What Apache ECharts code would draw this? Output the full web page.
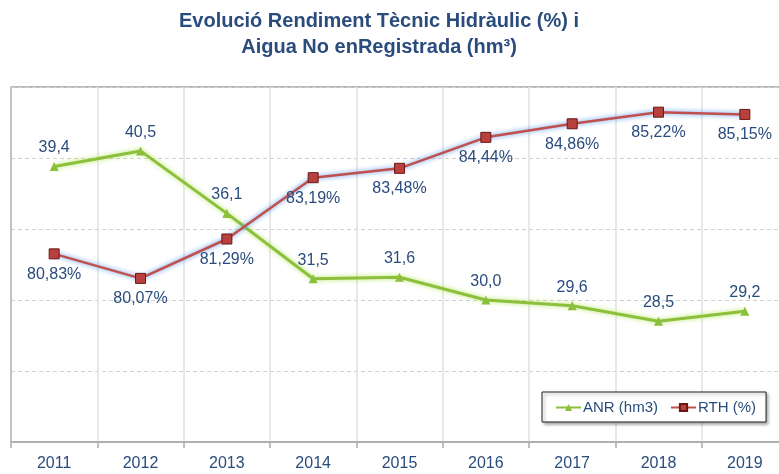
<!DOCTYPE html>
<html>
<head>
<meta charset="utf-8">
<script src="https://cdn.jsdelivr.net/npm/echarts@6/dist/echarts.min.js"></script>
<style>
  html, body { margin: 0; padding: 0; background: #fff; }
  #chart { width: 779px; height: 474px; }
</style>
</head>
<body>
<div id="chart"></div>
<script>
  var years = ['2011', '2012', '2013', '2014', '2015', '2016', '2017', '2018', '2019'];
  // Aigua No enRegistrada (hm3)
  var anr = [39.4, 40.5, 36.1, 31.5, 31.6, 30.0, 29.6, 28.5, 29.2];
  // Rendiment Tecnic Hidraulic (%)
  var rth = [80.83, 80.07, 81.29, 83.19, 83.48, 84.44, 84.86, 85.22, 85.15];

  var textBlue = '#2a4c7d';
  var myChart = echarts.init(document.getElementById('chart'));

  myChart.setOption({
    backgroundColor: '#fff',
    animation: false,
    title: {
      text: 'Evolució Rendiment Tècnic Hidràulic (%) i\nAigua No enRegistrada (hm³)',
      left: 374,
      top: 3,
      textAlign: 'center',
      textStyle: {
        fontFamily: 'Liberation Sans Narrow, Arial, sans-serif',
        fontWeight: 'bold',
        fontSize: 20,
        lineHeight: 26,
        color: textBlue
      }
    },
    legend: {
      left: 542,
      top: 392,
      padding: [8, 10, 7, 13],
      itemGap: 12,
      itemWidth: 25,
      itemHeight: 9,
      backgroundColor: '#fff',
      borderColor: '#222',
      borderWidth: 1,
      shadowColor: 'rgba(0,0,0,0.35)',
      shadowBlur: 3,
      shadowOffsetX: 2,
      shadowOffsetY: 2,
      textStyle: { fontFamily: 'Arial, sans-serif', fontSize: 15, color: textBlue, padding: [0, 0, 0, -3] },
      data: ['ANR (hm3)', 'RTH (%)']
    },
    grid: {
      left: 11,
      top: 87,
      width: 777,
      height: 355,
      outerBoundsMode: 'none',
      show: true,
      borderColor: '#777',
      borderWidth: 1
    },
    xAxis: {
      type: 'category',
      data: years,
      axisLine: { lineStyle: { color: '#aaa', width: 1.5 } },
      axisTick: { show: true, length: 6, lineStyle: { color: '#aaa', width: 1.5 } },
      axisLabel: { fontFamily: 'Arial, sans-serif', fontSize: 16, color: textBlue, margin: 14 },
      splitLine: { show: true, lineStyle: { color: '#e0e0e0', width: 1.5 } }
    },
    yAxis: [{
      type: 'value',
      min: 20,
      max: 45,
      interval: 5,
      axisLine: { show: true, lineStyle: { color: '#bbb', width: 1.5 } },
      axisTick: { show: false },
      axisLabel: { show: false },
      splitLine: { lineStyle: { color: '#d0d0d0', type: [4, 3] } }
    }, {
      type: 'value',
      min: 75,
      max: 86,
      axisLine: { show: false },
      axisTick: { show: false },
      axisLabel: { show: false },
      splitLine: { show: false }
    }],
    series: [{
      name: 'ANR (hm3)',
      type: 'line',
      yAxisIndex: 0,
      data: anr,
      symbol: 'triangle',
      symbolSize: 9,
      itemStyle: { color: '#8cbf3c' },
      lineStyle: {
        color: '#8cbf3c',
        width: 3,
        shadowColor: 'rgba(180,230,100,1)',
        shadowBlur: 5
      },
      label: {
        show: true,
        position: 'top',
        distance: 6,
        fontFamily: 'Arial, sans-serif',
        fontSize: 16,
        color: textBlue,
        formatter: function (p) { return p.value.toFixed(1).replace('.', ','); }
      },
      z: 3
    }, {
      name: 'RTH (%)',
      type: 'line',
      yAxisIndex: 1,
      data: rth,
      symbol: 'rect',
      symbolSize: 10,
      itemStyle: { color: '#b8403d', borderColor: '#6b1614', borderWidth: 1 },
      lineStyle: {
        color: '#c0504d',
        width: 2.5,
        shadowColor: 'rgba(80,145,235,1)',
        shadowBlur: 5
      },
      label: {
        show: true,
        position: 'bottom',
        distance: 7,
        fontFamily: 'Arial, sans-serif',
        fontSize: 16,
        color: textBlue,
        formatter: function (p) { return p.value.toFixed(2).replace('.', ',') + '%'; }
      },
      z: 4
    }]
  });
</script>
</body>
</html>
